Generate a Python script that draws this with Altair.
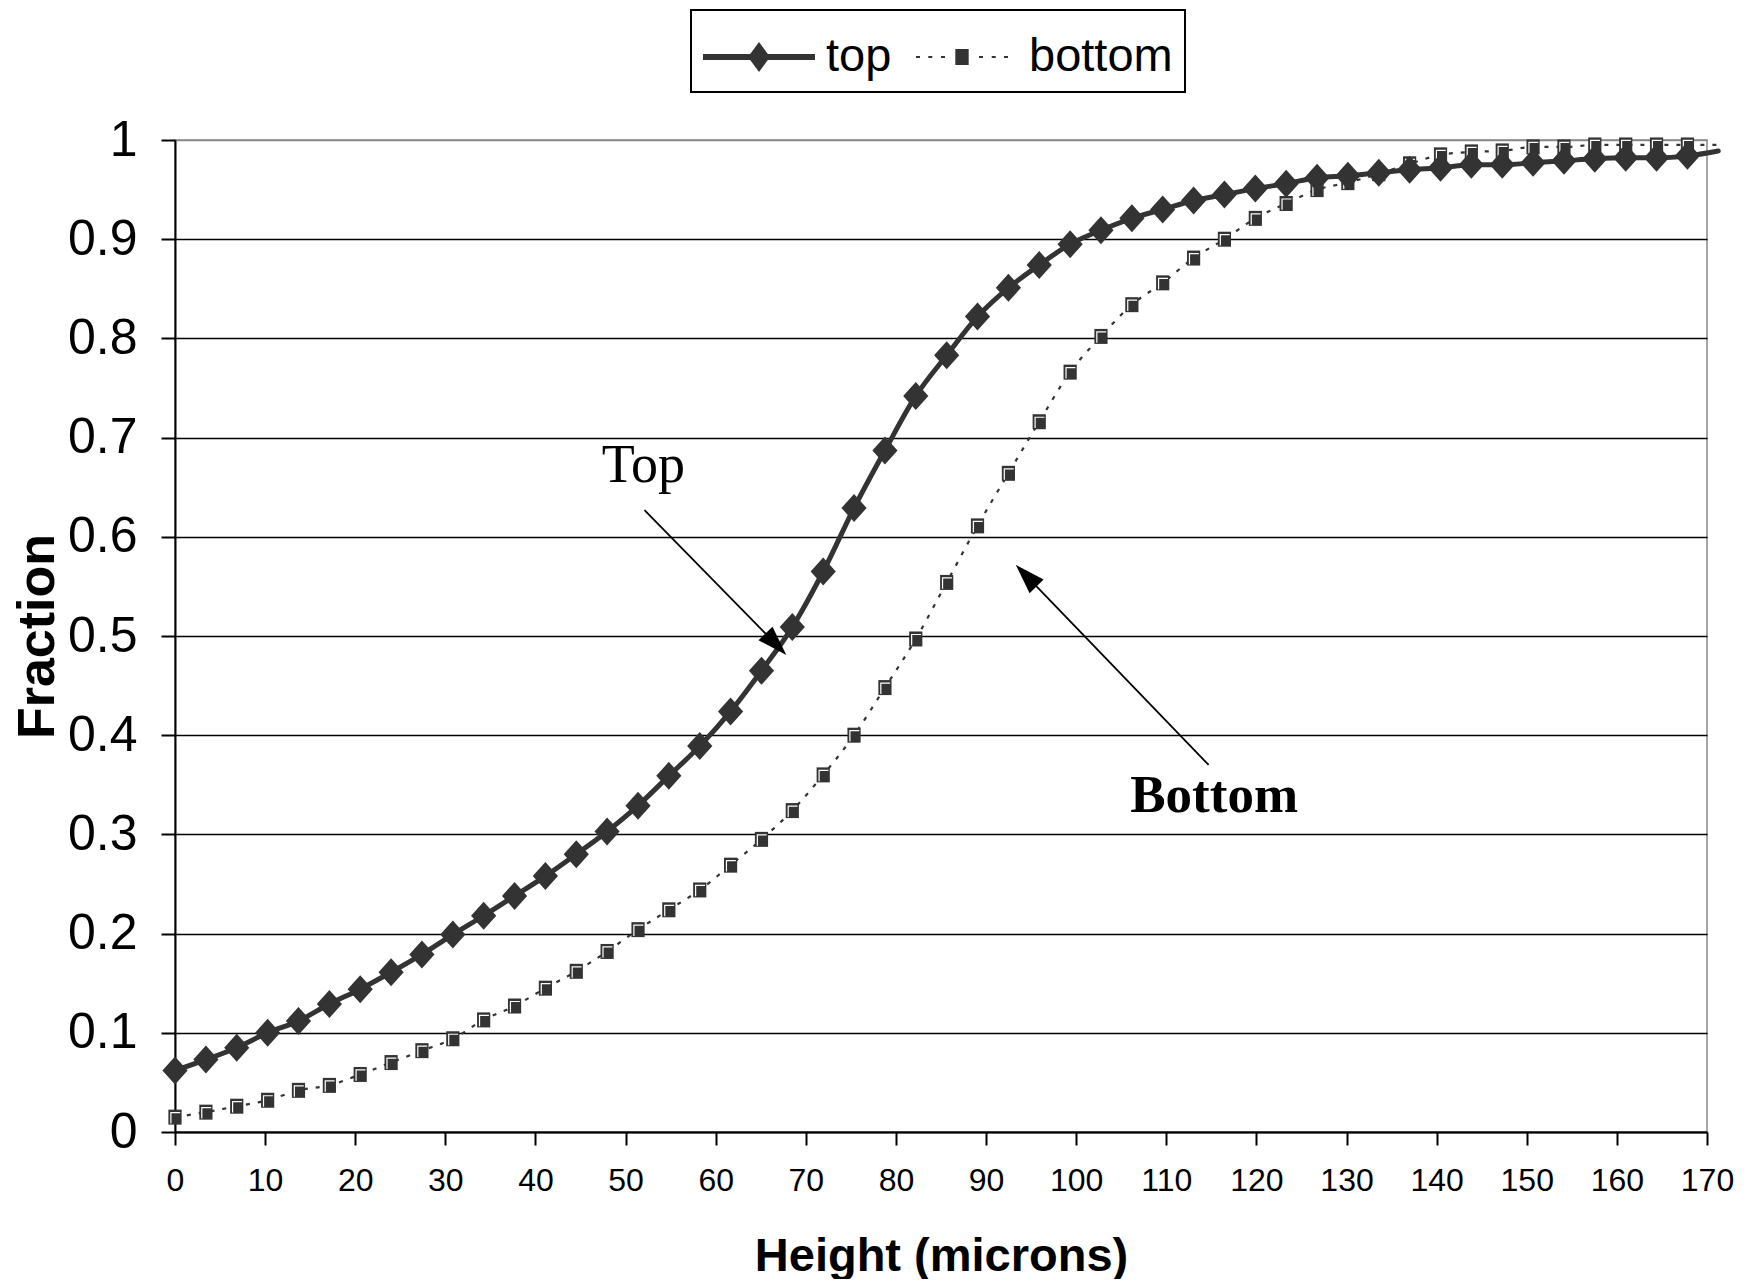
import altair as alt
import pandas as pd

# ---------------- data ----------------
height_um = [0, 3.43, 6.85, 10.28, 13.70, 17.13, 20.55, 23.98, 27.40, 30.83,
             34.25, 37.68, 41.10, 44.53, 47.95, 51.38, 54.80, 58.23, 61.65, 65.08,
             68.50, 71.93, 75.35, 78.78, 82.20, 85.63, 89.05, 92.48, 95.90, 99.33,
             102.75, 106.18, 109.60, 113.03, 116.45, 119.88, 123.30, 126.73, 130.15, 133.58,
             137.00, 140.43, 143.85, 147.28, 150.70, 154.13, 157.55, 160.98, 164.40, 167.83,
             171.25]

top_frac = [0.062, 0.073, 0.085, 0.100, 0.112, 0.129, 0.144, 0.161, 0.179, 0.199,
            0.218, 0.238, 0.258, 0.280, 0.303, 0.329, 0.359, 0.389, 0.424, 0.465,
            0.509, 0.565, 0.629, 0.687, 0.742, 0.783, 0.822, 0.851, 0.874, 0.895,
            0.909, 0.921, 0.930, 0.939, 0.945, 0.951, 0.956, 0.962, 0.964, 0.967,
            0.970, 0.972, 0.975, 0.975, 0.977, 0.979, 0.981, 0.982, 0.982, 0.984,
            0.989]

bottom_frac = [0.015, 0.020, 0.026, 0.032, 0.042, 0.047, 0.058, 0.070, 0.082, 0.094,
               0.113, 0.127, 0.145, 0.162, 0.182, 0.204, 0.224, 0.244, 0.269, 0.295,
               0.324, 0.360, 0.400, 0.448, 0.497, 0.554, 0.611, 0.664, 0.716, 0.766,
               0.802, 0.834, 0.856, 0.881, 0.900, 0.921, 0.936, 0.950, 0.957, 0.966,
               0.976, 0.985, 0.988, 0.989, 0.993, 0.993, 0.995, 0.995, 0.995, 0.995,
               0.995]

series_names = ["top", "bottom"]
x_ticks = [0, 10, 20, 30, 40, 50, 60, 70, 80, 90, 100, 110, 120, 130, 140, 150, 160, 170]
y_ticks = [0, 0.1, 0.2, 0.3, 0.4, 0.5, 0.6, 0.7, 0.8, 0.9, 1]

# annotations (data units)
annot_text = ["Top", "Bottom"]
annot_x = [47.36, 106.0]
annot_y = [0.655, 0.323]
arrow_x_start = [52.10, 114.70]
arrow_y_start = [0.627, 0.370]
arrow_x_head = [66.68, 94.45]
arrow_y_head = [0.4917, 0.5609]
arrow_angle = [136, 316]

# ---------------- shapes ----------------
DIAMOND = "M-0.9,0L0,-1L0.9,0L0,1Z"
SQUARE = "M-0.88,-1L0.88,-1L0.88,1L-0.88,1Z"
GAMMA = "M-0.55,0.85L-0.55,-0.6L0.7,-0.6"
HEAD = "M0,-1L0.65,1L-0.65,1Z"


def rect(x1, y1, x2, y2):
    return f"M{x1:.3f},{y1:.3f}L{x2:.3f},{y1:.3f}L{x2:.3f},{y2:.3f}L{x1:.3f},{y2:.3f}Z "


# legend symbols: symbol diameter 70 px (1 unit = 35 px), drawn from x=-1 to 2.2
LC = 0.6
TOP_LEG = rect(-1, -0.0857, 2.2, 0.0857) + \
    f"M{LC},-0.4286L{LC + 0.314:.3f},0L{LC},0.4286L{LC - 0.314:.3f},0Z"
BOTTOM_LEG = "".join(rect(LC + s * d - 0.057, -0.0286, LC + s * d + 0.057, 0.0286)
                     for d in [1.257, 0.906, 0.543] for s in [-1, 1]) + \
    rect(LC - 0.191, -0.229, LC + 0.191, 0.229)

# ---------------- frames ----------------
top_df = pd.DataFrame({"height": height_um, "fraction": top_frac})
bottom_df = pd.DataFrame({"height": height_um, "fraction": bottom_frac})
legend_df = pd.DataFrame({"series": series_names, "height": [-50, -50], "fraction": [0.5, 0.5]})
annot_df = pd.DataFrame({"label": annot_text, "height": annot_x, "fraction": annot_y})
arrow_df = pd.DataFrame({"height": arrow_x_start, "fraction": arrow_y_start,
                         "height2": arrow_x_head, "fraction2": arrow_y_head})
head_df = pd.DataFrame({"height": arrow_x_head, "fraction": arrow_y_head, "angle": arrow_angle})

FONT = "Liberation Sans"
DARK = "#333333"

X = alt.X("height:Q",
          scale=alt.Scale(domain=[0, 170], nice=False, zero=False),
          title="Height (microns)",
          axis=alt.Axis(values=x_ticks, format="d", grid=False,
                        labelFont=FONT, labelFontSize=32, labelColor="black",
                        labelBaseline="alphabetic", labelPadding=45, labelFlush=False,
                        labelOverlap=False,
                        tickSize=13, tickColor="black", tickWidth=2,
                        domainColor="black", domainWidth=2,
                        titleFont=FONT, titleFontSize=47, titleFontWeight="bold",
                        titleColor="black", titleBaseline="alphabetic",
                        titleX=766, titleY=138, titleAlign="center"))

Y = alt.Y("fraction:Q",
          scale=alt.Scale(domain=[0, 1], nice=False, zero=False),
          title="Fraction",
          axis=alt.Axis(values=y_ticks, format="~g", grid=True,
                        gridColor={"condition": {"test": "datum.value === 1", "value": "#888888"},
                                   "value": "black"},
                        gridWidth=1.4,
                        labelFont=FONT, labelFontSize=50, labelColor="black",
                        labelPadding=24, labelFlush=False, labelOverlap=False,
                        tickSize=14, tickColor="black", tickWidth=2,
                        domainColor="black", domainWidth=2,
                        titleFont=FONT, titleFontSize=52, titleFontWeight="bold",
                        titleColor="black", titleAngle=270, titleBaseline="alphabetic",
                        titleX=-122, titleY=496, titleAlign="center"))

bottom_line = alt.Chart(bottom_df).mark_line(
    color=DARK, strokeWidth=2.2, strokeDash=[4, 8], interpolate="monotone", clip=False
).encode(x=X, y=Y)

bottom_pts = alt.Chart(bottom_df).mark_point(
    shape=SQUARE, size=225, filled=True, color=DARK, opacity=1
).encode(x=X, y=Y).transform_filter("datum.height <= 170")

bottom_hl = alt.Chart(bottom_df).mark_point(
    shape=GAMMA, size=225, filled=False, stroke="white", strokeWidth=1.2, opacity=1
).encode(x=X, y=Y).transform_filter("datum.height <= 170")

top_line = alt.Chart(top_df).mark_line(
    color=DARK, strokeWidth=5, interpolate="monotone", clip=False, strokeCap="round"
).encode(x=X, y=Y)

top_pts = alt.Chart(top_df).mark_point(
    shape=DIAMOND, size=784, filled=True, color=DARK, opacity=1
).encode(x=X, y=Y).transform_filter("datum.height <= 170")

legend_layer = alt.Chart(legend_df).mark_point(
    filled=True, color=DARK, opacity=1, clip=True
).encode(
    x=X, y=Y,
    shape=alt.Shape("series:N",
                    scale=alt.Scale(domain=series_names, range=[TOP_LEG, BOTTOM_LEG]),
                    legend=alt.Legend(title=None, orient="none", legendX=516, legendY=-130,
                                      direction="horizontal", symbolSize=4900,
                                      symbolStrokeWidth=0, symbolOpacity=1,
                                      symbolFillColor=DARK,
                                      labelFont=FONT, labelFontSize=47, labelColor="black",
                                      labelOffset=53, columnPadding=14, padding=12,
                                      strokeColor="black"))
)

arrows = alt.Chart(arrow_df).mark_rule(color="black", strokeWidth=1.8).encode(
    x=X, y=Y, x2=alt.X2("height2:Q"), y2=alt.Y2("fraction2:Q"))

heads = alt.Chart(head_df).mark_point(
    shape=HEAD, size=900, filled=True, color="black", opacity=1
).encode(x=X, y=Y, angle=alt.Angle("angle:Q", scale=None))

top_label = alt.Chart(annot_df).transform_filter("datum.label == 'Top'").mark_text(
    font="Liberation Serif", fontSize=54, align="left", baseline="alphabetic", color="black"
).encode(x=X, y=Y, text="label:N")

bottom_label = alt.Chart(annot_df).transform_filter("datum.label == 'Bottom'").mark_text(
    font="Liberation Serif", fontSize=53, fontWeight="bold", align="left",
    baseline="alphabetic", color="black"
).encode(x=X, y=Y, text="label:N")

chart = alt.layer(
    bottom_line, bottom_pts, bottom_hl, top_line, top_pts, legend_layer,
    arrows, heads, top_label, bottom_label
).properties(
    width=1532, height=992,
    padding={"left": 167, "top": 132, "right": 33, "bottom": 147},
    autosize=alt.AutoSizeParams(type="none"),
    background="white",
).configure_view(
    stroke="#888888", strokeWidth=1.5
).configure_legend(
    strokeWidth=2
)

chart.save("out.html", embed_options={"renderer": "svg", "actions": False})
